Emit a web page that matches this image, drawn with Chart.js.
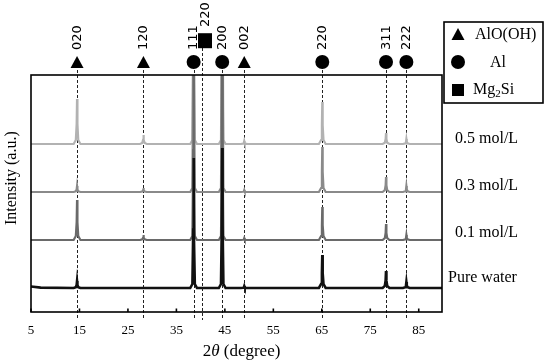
<!DOCTYPE html>
<html>
<head>
<meta charset="utf-8">
<script src="https://cdn.jsdelivr.net/npm/chart.js@4"></script>
<style>
html,body{margin:0;padding:0;background:#fff;}
#wrap{width:550px;height:364px;position:relative;}
</style>
</head>
<body>
<div id="wrap"><canvas id="c" width="550" height="364"></canvas></div>
<script>
// ---- data ----
const xTicks = [5, 15, 25, 35, 45, 55, 65, 75, 85];
const reflPos = [14.5, 28.2, 38.55, 40.2, 44.45, 49.0, 65.1, 78.25, 82.45];
const reflMarkerPos = [14.5, 28.2, 38.55, 40.9, 44.45, 49.0, 65.1, 78.25, 82.45];
const reflHkl = ['020', '120', '111', '220', '200', '002', '220', '311', '222'];
const reflPhase = ['AlO(OH)', 'AlO(OH)', 'Al', 'Mg2Si', 'Al', 'AlO(OH)', 'Al', 'Al', 'Al'];

const seriesNames = ['Pure water', '0.1 mol/L', '0.3 mol/L', '0.5 mol/L'];
const baselines = [24, 72, 120, 168];
const peaksPure = [7, 0, 130, 0, 140, 2, 33, 17, 6];
const peaks01 = [40, 5, 200, 0, 200, 2, 33, 16, 5];
const peaks03 = [6, 4, 300, 0, 300, 2, 45, 15, 6];
const peaks05 = [45, 9, 300, 0, 300, 3, 42, 11, 5];
const seriesPeaks = [peaksPure, peaks01, peaks03, peaks05];
const xMin = 5, xMax = 89.8, yMin = 0, yMax = 237;

// ---- styles ----
const seriesColors = ['#111111', '#6a6a6a', '#8a8a8a', '#b2b2b2'];
const seriesWidths = [2.6, 2.2, 2.2, 2.2];
const labelOffsets = [10, 7, 6, 5];
const labelX = [448, 455, 455, 455];

function buildTrace(base, peaks, first) {
  const pts = [{x: xMin, y: base + (first ? 1.5 : 0)}];
  if (first) pts.push({x: 7, y: base + 0.4});
  reflPos.forEach((p, i) => {
    const h = peaks[i];
    if (!h) return;
    pts.push({x: p - 0.7, y: base});
    pts.push({x: p - 0.25, y: base + Math.min(0.12 * h, 4)});
    pts.push({x: p - 0.08, y: base + 0.45 * h});
    pts.push({x: p, y: base + h});
    pts.push({x: p + 0.08, y: base + 0.45 * h});
    pts.push({x: p + 0.25, y: base + Math.min(0.12 * h, 4)});
    pts.push({x: p + 0.7, y: base});
  });
  pts.push({x: xMax, y: base});
  return pts;
}

const datasets = seriesNames.map((n, i) => ({
  label: n,
  data: buildTrace(baselines[i], seriesPeaks[i], i === 0),
  borderColor: seriesColors[i],
  borderWidth: seriesWidths[i],
  pointRadius: 0,
  tension: 0,
  fill: false
}));

const SERIF = "'Liberation Serif', 'DejaVu Serif', serif";
const SANS = "'DejaVu Sans', sans-serif";

function drawMarker(ctx, type, x, y) {
  ctx.fillStyle = '#000';
  ctx.beginPath();
  if (type === 'AlO(OH)') {
    ctx.moveTo(x, y - 6.5); ctx.lineTo(x + 6.5, y + 5.5); ctx.lineTo(x - 6.5, y + 5.5); ctx.closePath();
  } else if (type === 'Al') {
    ctx.arc(x, y, 7, 0, Math.PI * 2);
  } else {
    ctx.rect(x - 7, y - 7.5, 14, 15);
  }
  ctx.fill();
}

const decor = {
  id: 'decor',
  beforeDatasetsDraw(chart) {
    const ctx = chart.ctx, a = chart.chartArea, xs = chart.scales.x;
    ctx.save();
    ctx.strokeStyle = '#222'; ctx.lineWidth = 1; ctx.setLineDash([3, 2]);
    reflPos.forEach((p, i) => {
      const px = Math.round(xs.getPixelForValue(p)) + 0.5;
      const top = reflPhase[i] === 'Mg2Si' ? a.top - 27 : a.top - 5;
      ctx.beginPath(); ctx.moveTo(px, top); ctx.lineTo(px, a.bottom + 8); ctx.stroke();
    });
    ctx.restore();
  },
  afterDatasetsDraw(chart) {
    const ctx = chart.ctx, a = chart.chartArea;
    const xs = chart.scales.x, ys = chart.scales.y;
    ctx.save();
    // frame
    ctx.strokeStyle = '#000'; ctx.lineWidth = 1.6;
    ctx.strokeRect(a.left, a.top, a.right - a.left, a.bottom - a.top);
    // inside ticks
    xTicks.forEach(v => {
      const px = xs.getPixelForValue(v);
      ctx.beginPath(); ctx.moveTo(px, a.bottom); ctx.lineTo(px, a.bottom - 3.5); ctx.stroke();
    });
    // markers and hkl labels
    reflMarkerPos.forEach((p, i) => {
      const px = xs.getPixelForValue(p);
      const ph = reflPhase[i];
      const my = ph === 'Mg2Si' ? a.top - 34.3 : (ph === 'Al' ? a.top - 13 : a.top - 12.5);
      drawMarker(ctx, ph, px, my);
      const ly = ph === 'Mg2Si' ? a.top - 48 : a.top - 25;
      ctx.save();
      ctx.translate(px, ly);
      ctx.rotate(-Math.PI / 2);
      ctx.fillStyle = '#000';
      ctx.font = '13px ' + SANS;
      ctx.textAlign = 'left'; ctx.textBaseline = 'middle';
      ctx.fillText(reflHkl[i], 0, 0.5);
      ctx.restore();
    });
    // series labels on the right
    ctx.fillStyle = '#000';
    ctx.font = '16px ' + SERIF;
    ctx.textAlign = 'left'; ctx.textBaseline = 'middle';
    seriesNames.forEach((n, i) => {
      ctx.fillText(n, labelX[i], ys.getPixelForValue(baselines[i]) - labelOffsets[i]);
    });
    // axis titles
    ctx.save();
    ctx.translate(12, a.top + 0.435 * (a.bottom - a.top));
    ctx.rotate(-Math.PI / 2);
    ctx.font = '16px ' + SERIF; ctx.textAlign = 'center'; ctx.textBaseline = 'middle';
    ctx.fillText('Intensity (a.u.)', 0, 0);
    ctx.restore();
    const F = '17px ' + SERIF, FI = 'italic 17px ' + SERIF;
    ctx.font = F; ctx.textBaseline = 'middle';
    const p1 = '2', p2 = 'θ', p3 = ' (degree)';
    const w1 = ctx.measureText(p1).width, w3 = ctx.measureText(p3).width;
    ctx.font = FI;
    const w2 = ctx.measureText(p2).width;
    let tx = (a.left + a.right) / 2 + 5 - (w1 + w2 + w3) / 2;
    const ty = 352;
    ctx.textAlign = 'left';
    ctx.font = F; ctx.fillText(p1, tx, ty); tx += w1;
    ctx.font = FI; ctx.fillText(p2, tx, ty); tx += w2;
    ctx.font = F; ctx.fillText(p3, tx, ty);
    // legend box
    ctx.lineWidth = 1.6; ctx.strokeStyle = '#000';
    ctx.strokeRect(444, 22, 99, 81);
    drawMarker(ctx, 'AlO(OH)', 458, 34.5);
    drawMarker(ctx, 'Al', 458, 62);
    ctx.fillStyle = '#000';
    ctx.fillRect(452, 84, 12, 12);
    ctx.font = '16px ' + SERIF; ctx.textBaseline = 'middle';
    ctx.fillText('AlO(OH)', 475, 35);
    ctx.fillText('Al', 490, 63);
    let lx = 473;
    ctx.fillText('Mg', lx, 90); lx += ctx.measureText('Mg').width;
    ctx.font = '11px ' + SERIF; ctx.fillText('2', lx, 94); lx += ctx.measureText('2').width;
    ctx.font = '16px ' + SERIF; ctx.fillText('Si', lx, 90);
    ctx.restore();
  }
};

new Chart(document.getElementById('c'), {
  type: 'line',
  data: {datasets},
  options: {
    responsive: false,
    animation: false,
    layout: {padding: {left: 31, right: 108, top: 75, bottom: 0}},
    plugins: {legend: {display: false}, tooltip: {enabled: false}},
    scales: {
      x: {
        type: 'linear', min: xMin, max: xMax,
        afterBuildTicks: s => { s.ticks = xTicks.map(v => ({value: v})); },
        afterFit: s => { s.height = 52; },
        grid: {display: false, drawTicks: false},
        border: {display: false},
        ticks: {padding: 11, color: '#000', font: {family: SERIF, size: 13}, maxRotation: 0, autoSkip: false}
      },
      y: {
        type: 'linear', min: yMin, max: yMax, display: false
      }
    }
  },
  plugins: [decor]
});
</script>
</body>
</html>
